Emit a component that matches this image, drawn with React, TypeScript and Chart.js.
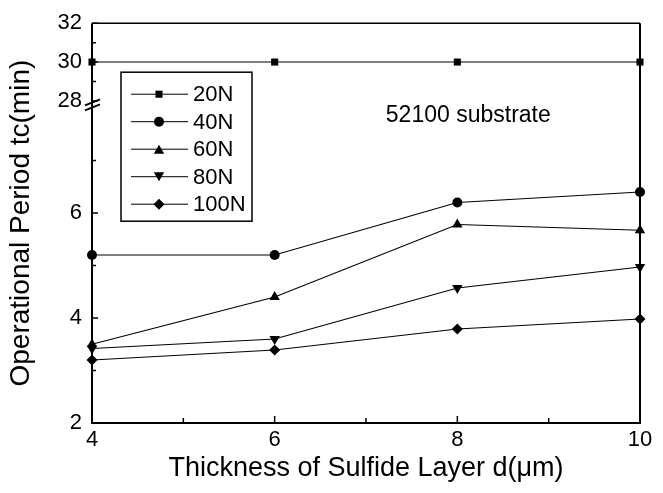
import React, { useEffect, useRef } from "react";
import { Chart, registerables } from "chart.js";

Chart.register(...registerables);

// ---- data ----
const thickness = [4, 6, 8, 10];
const seriesLabels = ["20N", "40N", "60N", "80N", "100N"];
const s20N = [30, 30, 30, 30];
const s40N = [5.2, 5.2, 6.2, 6.4];
const s60N = [3.5, 4.4, 5.78, 5.67];
const s80N = [3.42, 3.6, 4.57, 4.97];
const s100N = [3.2, 3.39, 3.79, 3.98];
const yMajorTicks = [2, 4, 6, 28, 30, 32];
const yMinorTicks = [3, 5, 7, 29, 31];
const xMinorTicks = [5, 7, 9];
const annotation = "52100 substrate";

// broken axis: lower segment 2..8 linear, upper segment 28..32 compressed
const BREAK_LOW = 8;
const BREAK_HIGH = 28;
const UPPER_START = 8.135;
const UPPER_SCALE = 0.37;
const toAxis = (v: number) => (v <= BREAK_LOW ? v : UPPER_START + (v - BREAK_HIGH) * UPPER_SCALE);
const fromAxis = (t: number) => (t <= BREAK_LOW + 0.01 ? t : BREAK_HIGH + (t - UPPER_START) / UPPER_SCALE);

const FONT = "'Liberation Sans', Arial, sans-serif";
const pointStyles = ["rect", "circle", "triangle", "triangle", "rectRot"];
const pointRots = [0, 0, 0, 180, 0];
const pointRadii = [5, 5, 6, 6, 5.5];
const allSeries = [s20N, s40N, s60N, s80N, s100N];

function drawMarker(ctx: CanvasRenderingContext2D, style: string, rot: number, x: number, y: number, r: number) {
  ctx.save();
  ctx.translate(x, y);
  ctx.rotate((rot * Math.PI) / 180);
  ctx.beginPath();
  if (style === "rect") {
    const s = Math.SQRT1_2 * r;
    ctx.rect(-s, -s, 2 * s, 2 * s);
  } else if (style === "circle") {
    ctx.arc(0, 0, r, 0, Math.PI * 2);
  } else if (style === "triangle") {
    for (let i = 0; i < 3; i++) {
      const a = -Math.PI / 2 + (i * 2 * Math.PI) / 3;
      const px = Math.cos(a) * r;
      const py = Math.sin(a) * r + r * 0.25;
      if (i === 0) ctx.moveTo(px, py);
      else ctx.lineTo(px, py);
    }
    ctx.closePath();
  } else if (style === "rectRot") {
    ctx.moveTo(0, -r);
    ctx.lineTo(r, 0);
    ctx.lineTo(0, r);
    ctx.lineTo(-r, 0);
    ctx.closePath();
  }
  ctx.fillStyle = "#000";
  ctx.fill();
  ctx.restore();
}

const framePlugin = {
  id: "frameAndDecor",
  afterDraw(chart: any) {
    const { ctx, chartArea } = chart;
    const xs = chart.scales.x;
    const ys = chart.scales.y;
    const { left, right, top, bottom } = chartArea;
    ctx.save();
    ctx.strokeStyle = "#000";
    // frame
    ctx.lineWidth = 2;
    ctx.beginPath();
    ctx.moveTo(left, top);
    ctx.lineTo(left, bottom);
    ctx.lineTo(right, bottom);
    ctx.lineTo(right, top);
    ctx.stroke();
    ctx.lineWidth = 1.5;
    ctx.beginPath();
    ctx.moveTo(left, top);
    ctx.lineTo(right, top);
    ctx.stroke();
    // inward ticks
    ctx.lineWidth = 1.5;
    ctx.beginPath();
    yMajorTicks.forEach((v) => {
      const p = ys.getPixelForValue(toAxis(v));
      ctx.moveTo(left, p);
      ctx.lineTo(left + 6, p);
    });
    yMinorTicks.forEach((v) => {
      const p = ys.getPixelForValue(toAxis(v));
      ctx.moveTo(left, p);
      ctx.lineTo(left + 4, p);
    });
    thickness.forEach((v) => {
      const p = xs.getPixelForValue(v);
      ctx.moveTo(p, bottom);
      ctx.lineTo(p, bottom - 7);
    });
    xMinorTicks.forEach((v) => {
      const p = xs.getPixelForValue(v);
      ctx.moveTo(p, bottom);
      ctx.lineTo(p, bottom - 5);
    });
    ctx.stroke();
    // break marks on left axis
    const yb = ys.getPixelForValue((BREAK_LOW + UPPER_START) / 2);
    ctx.lineWidth = 1.8;
    ctx.beginPath();
    ctx.moveTo(left - 7, yb + 1);
    ctx.lineTo(left + 8, yb - 5);
    ctx.moveTo(left - 7, yb + 6);
    ctx.lineTo(left + 8, yb);
    ctx.stroke();

    // annotation text
    ctx.fillStyle = "#000";
    ctx.font = `23px ${FONT}`;
    ctx.textAlign = "center";
    ctx.textBaseline = "alphabetic";
    ctx.fillText(annotation, xs.getPixelForValue(8.12), ys.getPixelForValue(toAxis(7.74)));

    // legend
    const bx = left + 29, by = top + 49, bw = 131, bh = 149;
    ctx.fillStyle = "#fff";
    ctx.fillRect(bx, by, bw, bh);
    ctx.lineWidth = 1.5;
    ctx.strokeRect(bx, by, bw, bh);
    ctx.font = `22px ${FONT}`;
    ctx.textAlign = "left";
    ctx.textBaseline = "middle";
    seriesLabels.forEach((lab, i) => {
      const cy = by + 22 + i * 27.5;
      ctx.lineWidth = 1;
      ctx.beginPath();
      ctx.moveTo(bx + 10, cy);
      ctx.lineTo(bx + 67, cy);
      ctx.stroke();
      drawMarker(ctx, pointStyles[i], pointRots[i], bx + 38, cy, pointRadii[i]);
      ctx.fillStyle = "#000";
      ctx.fillText(lab, bx + 72, cy + 1);
    });
    ctx.restore();
  },
};

export default function App() {
  const ref = useRef<HTMLCanvasElement>(null);
  useEffect(() => {
    document.body.style.margin = "0";
    const canvas = ref.current!;
    const datasets = allSeries.map((arr, i) => ({
      label: seriesLabels[i],
      data: thickness.map((x, j) => ({ x, y: toAxis(arr[j]) })),
      borderColor: "#000",
      backgroundColor: "#000",
      borderWidth: 1.1,
      pointStyle: pointStyles[i],
      rotation: pointRots[i],
      pointRadius: pointRadii[i],
      pointBorderWidth: 0,
      pointBackgroundColor: "#000",
      showLine: true,
      clip: false as any,
      tension: 0,
    }));
    const chart = new Chart(canvas, {
      type: "scatter",
      data: { datasets },
      plugins: [framePlugin],
      options: {
        responsive: false,
        animation: false,
        devicePixelRatio: 1,
        layout: { padding: { top: 17, right: 23, left: 0, bottom: 0 } },
        plugins: { legend: { display: false }, tooltip: { enabled: false } },
        scales: {
          x: {
            type: "linear",
            min: 4,
            max: 10,
            afterFit: (s: any) => { s.height = 70; },
            afterBuildTicks: (s: any) => { s.ticks = thickness.map((v) => ({ value: v })); },
            grid: { display: false, drawTicks: false },
            border: { display: false },
            ticks: { color: "#000", font: { family: FONT, size: 22 }, padding: 4, maxRotation: 0, autoSkip: false },
            title: {
              display: true,
              text: "Thickness of Sulfide Layer d(μm)",
              color: "#000",
              font: { family: FONT, size: 27 },
              padding: { top: 0, bottom: 8 },
            },
          },
          y: {
            type: "linear",
            min: 2,
            max: toAxis(32),
            afterFit: (s: any) => { s.width = 92; },
            afterBuildTicks: (s: any) => { s.ticks = yMajorTicks.map((v) => ({ value: toAxis(v) })); },
            grid: { display: false, drawTicks: false },
            border: { display: false },
            ticks: {
              color: "#000",
              font: { family: FONT, size: 22 },
              padding: 10,
              autoSkip: false,
              callback: (val: any) => String(Math.round(fromAxis(Number(val)))),
            },
            title: {
              display: true,
              text: "Operational Period tc(min)",
              color: "#000",
              font: { family: FONT, size: 28 },
              padding: { top: 4, bottom: 0 },
            },
          },
        },
      },
    });
    return () => chart.destroy();
  }, []);
  return (
    <div style={{ width: 663, height: 493 }}>
      <canvas ref={ref} width={663} height={493} style={{ display: "block" }} />
    </div>
  );
}
